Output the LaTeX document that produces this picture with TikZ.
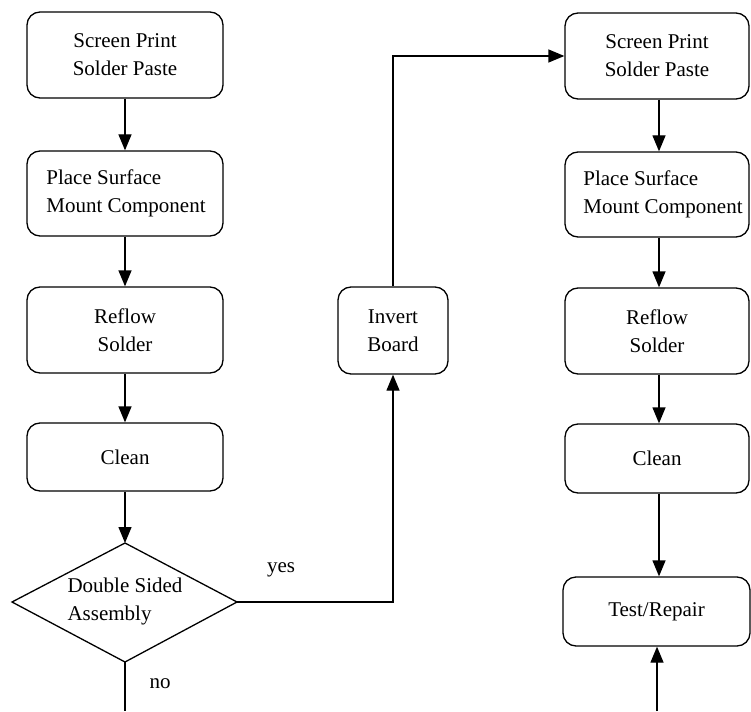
\documentclass[tikz,border=0pt]{standalone}
\usepackage{fontspec}
\setmainfont{Liberation Serif}
\usetikzlibrary{arrows.meta,shapes.geometric}
\begin{document}
\begin{tikzpicture}[x=1pt,y=-1pt,
  every node/.style={font=\fontsize{21}{28}\selectfont},
  line/.style={line width=1.3pt},
  flow/.style={line, -{Triangle[length=16pt,width=13pt]}},
  proc/.style={draw, line width=1.3pt, rounded corners=13pt, rectangle,
               inner sep=0pt, align=center},
  procL/.style={proc, align=left}
]
\useasboundingbox (0,0) rectangle (751,711);

% left column: first side
\node[proc, minimum width=196pt, minimum height=86pt] (l1) at (125,55) {Screen Print\\Solder Paste};
\node[procL, minimum width=196pt, minimum height=85pt] (l2) at (125,193.5) {\hspace*{2pt}Place Surface\\\hspace*{2pt}Mount Component};
\node[proc, minimum width=196pt, minimum height=86pt] (l3) at (125,330) {Reflow\\Solder};
\node[proc, minimum width=196pt, minimum height=68pt] (l4) at (125,457) {Clean};
\draw[line] (12,602) coordinate (dw) -- (125,543) coordinate (dn)
  -- (237,602) coordinate (de) -- (125,662) coordinate (ds) -- cycle;
\node[align=left] (d) at (125,601) {Double Sided\\Assembly};

% middle: board inversion
\node[proc, minimum width=110pt, minimum height=87pt] (inv) at (393,330.5) {Invert\\Board};

% right column: second side
\node[proc, minimum width=184pt, minimum height=86pt] (r1) at (657,56) {Screen Print\\Solder Paste};
\node[procL, minimum width=184pt, minimum height=85pt] (r2) at (657,194.5) {\hspace*{12pt}Place Surface\\\hspace*{12pt}Mount Component};
\node[proc, minimum width=184pt, minimum height=86pt] (r3) at (657,331) {Reflow\\Solder};
\node[proc, minimum width=184pt, minimum height=69pt] (r4) at (657,458.5) {Clean};
\node[proc, minimum width=187pt, minimum height=69pt] (t) at (656.5,611.5) {Test/Repair};

% connectors
\draw[flow] (l1) -- (l2);
\draw[flow] (l2) -- (l3);
\draw[flow] (l3) -- (l4);
\draw[flow] (l4) -- (dn);
\coordinate (noend) at (125,711);
\draw[line] (ds) -- (noend);
\node (no) at (160,684) {no};
\draw[flow] (de) -| (inv.south);
\node (yes) at (281,570) {yes};
\draw[flow] (inv.north) |- (r1.west);
\draw[flow] (r1.south -| 659,0) -- (r2.north -| 659,0);
\draw[flow] (r2.south -| 659,0) -- (r3.north -| 659,0);
\draw[flow] (r3.south -| 659,0) -- (r4.north -| 659,0);
\draw[flow] (r4.south -| 659,0) -- (t.north -| 659,0);
\coordinate (inend) at (657,711);
\draw[flow] (inend) -- (t.south -| inend);
\end{tikzpicture}
\end{document}
